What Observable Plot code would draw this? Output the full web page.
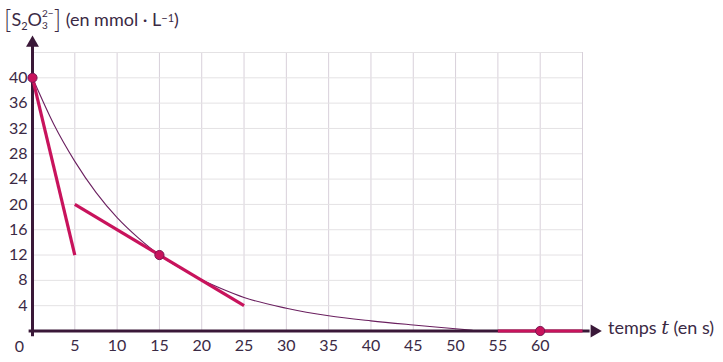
<!DOCTYPE html>
<html>
<head>
<meta charset="utf-8">
<script src="https://cdn.jsdelivr.net/npm/d3@7"></script>
<script src="https://cdn.jsdelivr.net/npm/@observablehq/plot@0.6"></script>
<style>
  html, body { margin: 0; padding: 0; background: #fff; }
  #wrap { position: relative; width: 723px; height: 362px; font-family: Lato, "Open Sans", sans-serif; color: #3b2a45; font-weight: 400; }
  #wrap svg { position: absolute; left: 0; top: 0; }
  .title { position: absolute; left: 4px; top: 4px; height: 30px; font-size: 18px; white-space: nowrap; display: flex; align-items: center; }
  .br { font-size: 25px; font-weight: 300; line-height: 28px; }
  .stk { display: inline-flex; flex-direction: column; font-size: 10px; line-height: 12px; }
  .sub { font-size: 11px; position: relative; top: 6px; }
  .xlab { position: absolute; left: 608px; top: 316px; font-size: 18px; white-space: nowrap; }
  .tt { font-family: "DejaVu Serif", serif; font-style: italic; font-size: 19px; }
</style>
</head>
<body>
<div id="wrap">
  <div class="title"><span class="br">[</span>S<span class="sub">2</span>O<span class="stk"><span>2−</span><span>3</span></span><span class="br">]</span>&nbsp;(en mmol · L<sup style="font-size:11px;position:relative;top:-2px">−1</sup>)</div>
  <div class="xlab">temps <span class="tt">t</span> (en s)</div>
</div>
<script>
// Concentration curve (t in s, c in mmol/L)
const curveT = [0, 2.5, 5, 7.5, 10, 12.5, 15, 17.5, 20, 22.5, 25, 30, 35, 40, 45, 50, 52];
const curveC = [40, 32.7, 26.8, 21.9, 17.9, 14.7, 12, 9.9, 8.1, 6.6, 5.3, 3.6, 2.4, 1.6, 0.95, 0.35, 0.1];

// Tangent segments [t1, c1, t2, c2]
const tangentT1 = [0, 5, 55];
const tangentC1 = [40, 20, 0];
const tangentT2 = [5, 25, 65];
const tangentC2 = [12, 4, 0];

// Tangent points
const pointT = [0, 15, 60];
const pointC = [40, 12, 0];

// Ticks
const xTicks = [5, 10, 15, 20, 25, 30, 35, 40, 45, 50, 55, 60];
const yTicks = [4, 8, 12, 16, 20, 24, 28, 32, 36, 40];
const xGrid = [5, 10, 15, 20, 25, 30, 35, 40, 45, 50, 55, 60, 65];
const yGrid = [4, 8, 12, 16, 20, 24, 28, 32, 36, 40, 44];

// Axis extents (data units)
const axisXEnd = 66.4;
const axisYEnd = 45.5;

const curve = curveT.map((t, i) => ({t, c: curveC[i]}));
const tangents = tangentT1.map((t, i) => ({t1: t, c1: tangentC1[i], t2: tangentT2[i], c2: tangentC2[i]}));
const points = pointT.map((t, i) => ({t, c: pointC[i]}));

const dark = "#3a1838";
const pink = "#c8135c";
const txt = "#3b2a45";

const chart = Plot.plot({
  width: 723,
  height: 362,
  marginLeft: 32,
  marginRight: 141,
  marginTop: 52,
  marginBottom: 31.5,
  x: {domain: [0, 65]},
  y: {domain: [0, 44]},
  style: {fontFamily: "Lato, 'Open Sans', sans-serif", fontSize: "16px", color: txt, background: "#fff"},
  marks: [
    Plot.ruleX(xGrid, {stroke: "#d8d0da", strokeWidth: 1}),
    Plot.ruleY(yGrid, {stroke: "#e4e2e4", strokeWidth: 1}),
    Plot.axisX(xTicks, {tickSize: 0, tickPadding: 9, fontSize: 16, fill: txt}),
    Plot.axisY(yTicks, {tickSize: 0, tickPadding: 5, fontSize: 16, fill: txt}),
    Plot.text([0], {x: 0, y: 0, text: () => "0", dx: -13, dy: 16, fontSize: 16, fill: txt}),
    Plot.line(curve, {x: "t", y: "c", stroke: "#6a1f5f", strokeWidth: 1.1, curve: "monotone-x"}),
    Plot.ruleY([0], {x1: -0.4, x2: axisXEnd - 0.5, stroke: dark, strokeWidth: 3}),
    Plot.ruleX([0], {y1: -0.9, y2: axisYEnd - 0.5, stroke: dark, strokeWidth: 3}),
    Plot.dot([0], {x: axisXEnd, y: 0, symbol: "triangle", r: 4.8, rotate: 90, fill: dark, stroke: "none"}),
    Plot.dot([0], {x: 0, y: axisYEnd, symbol: "triangle", r: 4.8, fill: dark, stroke: "none"}),
    Plot.link(tangents, {x1: "t1", y1: "c1", x2: "t2", y2: "c2", stroke: pink, strokeWidth: 3.2}),
    Plot.dot(points, {x: "t", y: "c", r: 4.6, fill: pink, stroke: "#7a1552", strokeWidth: 1})
  ]
});
document.getElementById("wrap").prepend(chart);
</script>
</body>
</html>
